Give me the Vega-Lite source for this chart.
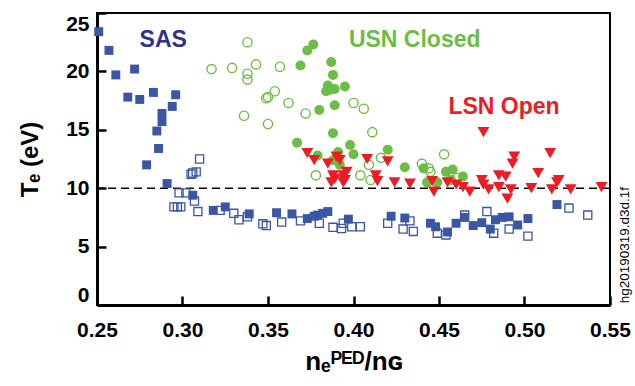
{
  "$schema": "https://vega.github.io/schema/vega-lite/v6.json",
  "width": 513,
  "height": 292,
  "autosize": "none",
  "padding": {"left": 97, "top": 13, "right": 25, "bottom": 81},
  "background": "white",
  "config": {
    "view": {"stroke": "black", "strokeWidth": 2},
    "font": "Liberation Sans",
    "axis": {
      "grid": false,
      "labelFont": "Liberation Sans", "labelFontWeight": "bold", "labelFontSize": 21, "labelColor": "black",
      "tickSize": -9, "tickColor": "black", "tickWidth": 2.5,
      "domainColor": "black", "domainWidth": 3,
      "titleFont": "Liberation Sans", "titleFontWeight": "bold", "titleColor": "black"
    },
    "axisX": {"labelPadding": 23, "labelFlush": false, "titleFontSize": 26, "titlePadding": 8},
    "axisY": {"labelPadding": 17, "labelFlush": true, "titleFontSize": 24}
  },
  "datasets": {
    "pts": [
      {"s": "SAS_f", "x": 0.251, "T": 23.4}, {"s": "SAS_f", "x": 0.257, "T": 21.8}, {"s": "SAS_f", "x": 0.261, "T": 19.7},
      {"s": "SAS_f", "x": 0.272, "T": 20.2}, {"s": "SAS_f", "x": 0.268, "T": 17.8}, {"s": "SAS_f", "x": 0.275, "T": 17.6},
      {"s": "SAS_f", "x": 0.283, "T": 18.2}, {"s": "SAS_f", "x": 0.296, "T": 18.0}, {"s": "SAS_f", "x": 0.294, "T": 17.0},
      {"s": "SAS_f", "x": 0.288, "T": 16.4}, {"s": "SAS_f", "x": 0.288, "T": 15.7}, {"s": "SAS_f", "x": 0.285, "T": 14.9},
      {"s": "SAS_f", "x": 0.286, "T": 13.4}, {"s": "SAS_f", "x": 0.279, "T": 12.0}, {"s": "SAS_f", "x": 0.291, "T": 10.4},
      {"s": "SAS_f", "x": 0.306, "T": 9.4}, {"s": "SAS_f", "x": 0.318, "T": 8.1}, {"s": "SAS_f", "x": 0.325, "T": 8.4},
      {"s": "SAS_f", "x": 0.339, "T": 7.8}, {"s": "SAS_f", "x": 0.355, "T": 7.9}, {"s": "SAS_f", "x": 0.364, "T": 7.8},
      {"s": "SAS_f", "x": 0.373, "T": 7.4}, {"s": "SAS_f", "x": 0.377, "T": 7.6}, {"s": "SAS_f", "x": 0.379, "T": 7.7},
      {"s": "SAS_f", "x": 0.382, "T": 7.85}, {"s": "SAS_f", "x": 0.385, "T": 8.0}, {"s": "SAS_f", "x": 0.397, "T": 7.35},
      {"s": "SAS_f", "x": 0.422, "T": 7.6}, {"s": "SAS_f", "x": 0.430, "T": 7.45}, {"s": "SAS_f", "x": 0.445, "T": 7.0},
      {"s": "SAS_f", "x": 0.448, "T": 6.7}, {"s": "SAS_f", "x": 0.455, "T": 6.25}, {"s": "SAS_f", "x": 0.460, "T": 7.0},
      {"s": "SAS_f", "x": 0.465, "T": 7.5}, {"s": "SAS_f", "x": 0.470, "T": 6.8}, {"s": "SAS_f", "x": 0.475, "T": 7.05},
      {"s": "SAS_f", "x": 0.480, "T": 6.5}, {"s": "SAS_f", "x": 0.483, "T": 7.3}, {"s": "SAS_f", "x": 0.487, "T": 7.5},
      {"s": "SAS_f", "x": 0.491, "T": 7.55}, {"s": "SAS_f", "x": 0.496, "T": 6.85}, {"s": "SAS_f", "x": 0.502, "T": 7.4},
      {"s": "SAS_f", "x": 0.519, "T": 8.6},
      {"s": "SAS_o", "x": 0.310, "T": 12.5}, {"s": "SAS_o", "x": 0.305, "T": 11.2}, {"s": "SAS_o", "x": 0.306, "T": 11.3},
      {"s": "SAS_o", "x": 0.308, "T": 11.4}, {"s": "SAS_o", "x": 0.298, "T": 9.6}, {"s": "SAS_o", "x": 0.302, "T": 9.6},
      {"s": "SAS_o", "x": 0.307, "T": 8.9}, {"s": "SAS_o", "x": 0.295, "T": 8.4}, {"s": "SAS_o", "x": 0.297, "T": 8.4},
      {"s": "SAS_o", "x": 0.299, "T": 8.4}, {"s": "SAS_o", "x": 0.309, "T": 8.0}, {"s": "SAS_o", "x": 0.322, "T": 8.1},
      {"s": "SAS_o", "x": 0.330, "T": 7.85}, {"s": "SAS_o", "x": 0.333, "T": 7.3}, {"s": "SAS_o", "x": 0.338, "T": 7.55},
      {"s": "SAS_o", "x": 0.347, "T": 6.95}, {"s": "SAS_o", "x": 0.349, "T": 6.8}, {"s": "SAS_o", "x": 0.358, "T": 7.1},
      {"s": "SAS_o", "x": 0.369, "T": 7.2}, {"s": "SAS_o", "x": 0.380, "T": 7.0}, {"s": "SAS_o", "x": 0.388, "T": 6.65},
      {"s": "SAS_o", "x": 0.393, "T": 6.55}, {"s": "SAS_o", "x": 0.394, "T": 7.0}, {"s": "SAS_o", "x": 0.399, "T": 6.7},
      {"s": "SAS_o", "x": 0.404, "T": 6.7}, {"s": "SAS_o", "x": 0.420, "T": 7.0}, {"s": "SAS_o", "x": 0.429, "T": 6.5},
      {"s": "SAS_o", "x": 0.433, "T": 7.2}, {"s": "SAS_o", "x": 0.435, "T": 6.3}, {"s": "SAS_o", "x": 0.449, "T": 6.15},
      {"s": "SAS_o", "x": 0.454, "T": 6.0}, {"s": "SAS_o", "x": 0.465, "T": 7.7}, {"s": "SAS_o", "x": 0.478, "T": 8.0},
      {"s": "SAS_o", "x": 0.482, "T": 6.15}, {"s": "SAS_o", "x": 0.491, "T": 6.5}, {"s": "SAS_o", "x": 0.502, "T": 5.9},
      {"s": "SAS_o", "x": 0.526, "T": 8.3}, {"s": "SAS_o", "x": 0.537, "T": 7.7},
      {"s": "USN_o", "x": 0.338, "T": 22.5}, {"s": "USN_o", "x": 0.317, "T": 20.2}, {"s": "USN_o", "x": 0.329, "T": 20.3},
      {"s": "USN_o", "x": 0.343, "T": 20.6}, {"s": "USN_o", "x": 0.338, "T": 19.8}, {"s": "USN_o", "x": 0.338, "T": 19.3},
      {"s": "USN_o", "x": 0.357, "T": 20.4}, {"s": "USN_o", "x": 0.354, "T": 18.3}, {"s": "USN_o", "x": 0.349, "T": 17.7},
      {"s": "USN_o", "x": 0.350, "T": 17.8}, {"s": "USN_o", "x": 0.362, "T": 17.3}, {"s": "USN_o", "x": 0.336, "T": 16.2},
      {"s": "USN_o", "x": 0.350, "T": 15.5}, {"s": "USN_o", "x": 0.372, "T": 16.4}, {"s": "USN_o", "x": 0.400, "T": 17.3},
      {"s": "USN_o", "x": 0.406, "T": 16.8}, {"s": "USN_o", "x": 0.411, "T": 14.8}, {"s": "USN_o", "x": 0.378, "T": 11.1},
      {"s": "USN_o", "x": 0.404, "T": 11.1}, {"s": "USN_o", "x": 0.410, "T": 10.7}, {"s": "USN_o", "x": 0.409, "T": 12.0},
      {"s": "USN_o", "x": 0.416, "T": 12.6}, {"s": "USN_o", "x": 0.440, "T": 12.1}, {"s": "USN_o", "x": 0.444, "T": 11.7},
      {"s": "USN_o", "x": 0.445, "T": 11.4}, {"s": "USN_o", "x": 0.453, "T": 12.9}, {"s": "USN_o", "x": 0.461, "T": 10.9},
      {"s": "USN_f", "x": 0.3765, "T": 22.3}, {"s": "USN_f", "x": 0.373, "T": 21.8}, {"s": "USN_f", "x": 0.369, "T": 20.5},
      {"s": "USN_f", "x": 0.387, "T": 20.8}, {"s": "USN_f", "x": 0.388, "T": 19.7}, {"s": "USN_f", "x": 0.385, "T": 18.8},
      {"s": "USN_f", "x": 0.386, "T": 18.4}, {"s": "USN_f", "x": 0.389, "T": 18.5}, {"s": "USN_f", "x": 0.395, "T": 18.7},
      {"s": "USN_f", "x": 0.384, "T": 18.3}, {"s": "USN_f", "x": 0.389, "T": 17.1}, {"s": "USN_f", "x": 0.380, "T": 16.7},
      {"s": "USN_f", "x": 0.388, "T": 14.7}, {"s": "USN_f", "x": 0.367, "T": 13.9}, {"s": "USN_f", "x": 0.398, "T": 13.7},
      {"s": "USN_f", "x": 0.400, "T": 12.9}, {"s": "USN_f", "x": 0.391, "T": 13.1}, {"s": "USN_f", "x": 0.379, "T": 12.8},
      {"s": "USN_f", "x": 0.392, "T": 12.0}, {"s": "USN_f", "x": 0.388, "T": 12.4}, {"s": "USN_f", "x": 0.420, "T": 13.3},
      {"s": "USN_f", "x": 0.430, "T": 11.8}, {"s": "USN_f", "x": 0.441, "T": 11.7}, {"s": "USN_f", "x": 0.443, "T": 10.5},
      {"s": "USN_f", "x": 0.449, "T": 10.5}, {"s": "USN_f", "x": 0.454, "T": 11.4}, {"s": "USN_f", "x": 0.458, "T": 11.6},
      {"s": "USN_f", "x": 0.457, "T": 10.7}, {"s": "USN_f", "x": 0.464, "T": 11.0},
      {"s": "LSN", "x": 0.373, "T": 13.0}, {"s": "LSN", "x": 0.377, "T": 12.4}, {"s": "LSN", "x": 0.385, "T": 12.1},
      {"s": "LSN", "x": 0.390, "T": 12.7}, {"s": "LSN", "x": 0.392, "T": 12.4}, {"s": "LSN", "x": 0.388, "T": 11.1},
      {"s": "LSN", "x": 0.389, "T": 10.8}, {"s": "LSN", "x": 0.394, "T": 11.1}, {"s": "LSN", "x": 0.396, "T": 11.4},
      {"s": "LSN", "x": 0.395, "T": 10.7}, {"s": "LSN", "x": 0.387, "T": 10.5}, {"s": "LSN", "x": 0.394, "T": 10.5},
      {"s": "LSN", "x": 0.408, "T": 12.5}, {"s": "LSN", "x": 0.420, "T": 12.3}, {"s": "LSN", "x": 0.413, "T": 11.1},
      {"s": "LSN", "x": 0.414, "T": 10.6}, {"s": "LSN", "x": 0.424, "T": 10.5}, {"s": "LSN", "x": 0.433, "T": 10.4},
      {"s": "LSN", "x": 0.446, "T": 10.6}, {"s": "LSN", "x": 0.447, "T": 9.7}, {"s": "LSN", "x": 0.455, "T": 10.5},
      {"s": "LSN", "x": 0.460, "T": 10.3}, {"s": "LSN", "x": 0.464, "T": 10.1}, {"s": "LSN", "x": 0.468, "T": 9.7},
      {"s": "LSN", "x": 0.475, "T": 10.7}, {"s": "LSN", "x": 0.476, "T": 14.8}, {"s": "LSN", "x": 0.476, "T": 10.3},
      {"s": "LSN", "x": 0.479, "T": 9.9}, {"s": "LSN", "x": 0.485, "T": 11.1}, {"s": "LSN", "x": 0.489, "T": 11.0},
      {"s": "LSN", "x": 0.485, "T": 10.1}, {"s": "LSN", "x": 0.492, "T": 9.9}, {"s": "LSN", "x": 0.490, "T": 9.1},
      {"s": "LSN", "x": 0.494, "T": 12.7}, {"s": "LSN", "x": 0.493, "T": 12.1}, {"s": "LSN", "x": 0.504, "T": 10.0},
      {"s": "LSN", "x": 0.508, "T": 11.3}, {"s": "LSN", "x": 0.515, "T": 13.0}, {"s": "LSN", "x": 0.516, "T": 9.9},
      {"s": "LSN", "x": 0.519, "T": 10.5}, {"s": "LSN", "x": 0.520, "T": 10.7}, {"s": "LSN", "x": 0.527, "T": 9.9},
      {"s": "LSN", "x": 0.545, "T": 10.1}
    ],
    "labels": [
      {"label": "SAS", "x": 0.2887, "T": 22.7},
      {"label": "USN Closed", "x": 0.4358, "T": 22.67},
      {"label": "LSN Open", "x": 0.488, "T": 16.94}
    ],
    "ref": [{"T": 10}],
    "tag": [{"label": "hg20190319.d3d.1f", "x": 0.5585, "T": 0.15}]
  },
  "layer": [
    {
      "data": {"name": "ref"},
      "mark": {"type": "rule", "color": "black", "strokeWidth": 1.5, "strokeDash": [8, 5]},
      "encoding": {
        "y": {"field": "T", "type": "quantitative", "scale": {"domain": [0, 25], "nice": false}}
      }
    },
    {
      "data": {"name": "pts"},
      "transform": [{"filter": "datum.s == 'SAS_f'"}],
      "mark": {"type": "point", "shape": "square", "filled": true, "color": "#3a56a5", "size": 80, "opacity": 1},
      "encoding": {
        "x": {
          "field": "x", "type": "quantitative",
          "scale": {"domain": [0.25, 0.55], "nice": false},
          "axis": {"title": "nₑᴾᴱᴰ/nɢ", "values": [0.25, 0.3, 0.35, 0.4, 0.45, 0.5, 0.55], "format": ".2f"}
        },
        "y": {
          "field": "T", "type": "quantitative",
          "scale": {"domain": [0, 25], "nice": false},
          "axis": {"title": "Tₑ (eV)", "values": [0, 5, 10, 15, 20, 25], "titleX": -67, "titleBaseline": "middle"}
        }
      }
    },
    {
      "data": {"name": "pts"},
      "transform": [{"filter": "datum.s == 'SAS_o'"}],
      "mark": {"type": "point", "shape": "square", "filled": false, "color": "#3a56a5", "size": 66, "strokeWidth": 1.3, "opacity": 1},
      "encoding": {
        "x": {"field": "x", "type": "quantitative"},
        "y": {"field": "T", "type": "quantitative"}
      }
    },
    {
      "data": {"name": "pts"},
      "transform": [{"filter": "datum.s == 'USN_o'"}],
      "mark": {"type": "point", "shape": "circle", "filled": false, "color": "#6cbd45", "size": 85, "strokeWidth": 1.4, "opacity": 1},
      "encoding": {
        "x": {"field": "x", "type": "quantitative"},
        "y": {"field": "T", "type": "quantitative"}
      }
    },
    {
      "data": {"name": "pts"},
      "transform": [{"filter": "datum.s == 'USN_f'"}],
      "mark": {"type": "point", "shape": "circle", "filled": true, "color": "#6cbd45", "size": 100, "opacity": 1},
      "encoding": {
        "x": {"field": "x", "type": "quantitative"},
        "y": {"field": "T", "type": "quantitative"}
      }
    },
    {
      "data": {"name": "pts"},
      "transform": [{"filter": "datum.s == 'LSN'"}],
      "mark": {"type": "point", "shape": "triangle-down", "filled": true, "color": "#ed1c24", "size": 140, "opacity": 1},
      "encoding": {
        "x": {"field": "x", "type": "quantitative"},
        "y": {"field": "T", "type": "quantitative"}
      }
    },
    {
      "data": {"name": "labels"},
      "mark": {"type": "text", "font": "Liberation Sans", "fontWeight": "bold", "fontSize": 23, "baseline": "middle", "align": "center"},
      "encoding": {
        "x": {"field": "x", "type": "quantitative"},
        "y": {"field": "T", "type": "quantitative"},
        "text": {"field": "label"},
        "color": {
          "field": "label", "type": "nominal", "legend": null,
          "scale": {"domain": ["SAS", "USN Closed", "LSN Open"], "range": ["#2e3192", "#6cbd45", "#ed1c24"]}
        }
      }
    },
    {
      "data": {"name": "tag"},
      "mark": {"type": "text", "font": "Liberation Sans", "fontSize": 13.5, "color": "black", "angle": 270, "align": "left", "baseline": "middle"},
      "encoding": {
        "x": {"field": "x", "type": "quantitative"},
        "y": {"field": "T", "type": "quantitative"},
        "text": {"field": "label"}
      }
    }
  ]
}
